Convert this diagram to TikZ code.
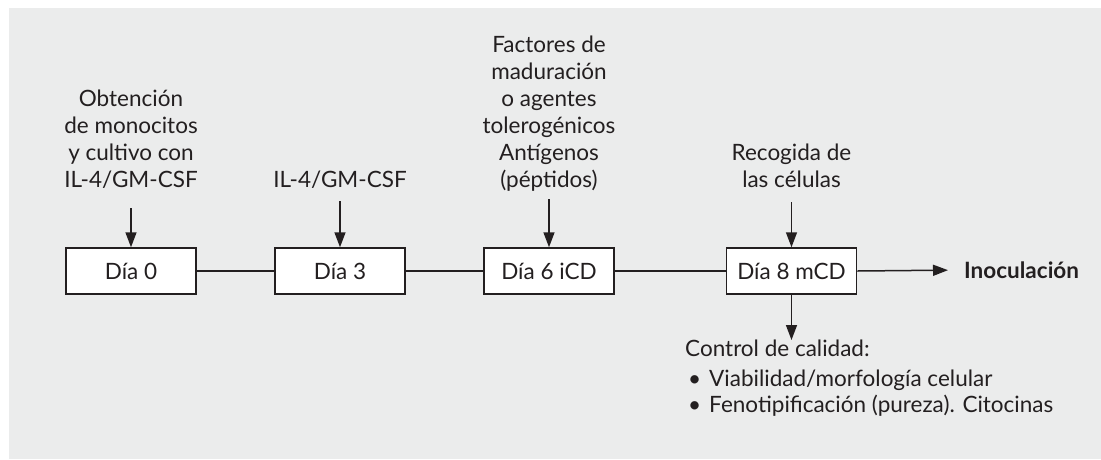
\documentclass[tikz,border=0pt]{standalone}
\usepackage{fontspec}
\setmainfont{Lato}
\usetikzlibrary{arrows.meta}
\definecolor{bg}{HTML}{EBECEC}
\definecolor{ink}{HTML}{231F20}
\begin{document}
\begin{tikzpicture}[x=1pt,y=-1pt,
  every node/.style={text=ink, font=\fontsize{22.5}{27}\selectfont},
  daybox/.style={draw=ink, line width=1.5pt, fill=white, minimum width=130pt, minimum height=46pt, inner sep=0pt},
  lbl/.style={align=center, anchor=south, inner sep=0pt, text depth=5pt},
  link/.style={draw=ink, line width=1.5pt},
  arr/.style={link, -{Triangle[length=15pt,width=11pt]}}]
\useasboundingbox (0,0) rectangle (1101,459);
\fill[bg] (9,8) rectangle (1101,459);
\node[daybox] (d0) at (131,271) {Día 0};
\node[daybox] (d3) at (340,271) {Día 3};
\node[daybox] (d6) at (549,271) {Día 6 iCD};
\node[daybox] (d8) at (791.5,271) {Día 8 mCD};
\node[anchor=west, inner sep=0pt, font=\fontsize{22.5}{27}\selectfont\bfseries] (ino) at (964,270) {Inoculación};
\node[lbl] (l0) at (131,193) {Obtención\\de monocitos\\y cultivo con\\IL-4/GM-CSF};
\node[lbl] (l3) at (340,193) {IL-4/GM-CSF};
\node[lbl] (l6) at (549,193) {Factores de\\maduración\\o agentes\\tolerogénicos\\Antígenos\\(péptidos)};
\node[lbl] (l8) at (791.5,193) {Recogida de\\las células};
\coordinate (qtop) at (791.5,340);
\node[anchor=base west, inner sep=0pt] (qc) at (685,356) {Control de calidad:};
\node[anchor=base west, inner sep=0pt] (b1) at (688,386) {\textbullet\hspace{8pt}Viabilidad/morfología celular};
\node[anchor=base west, inner sep=0pt] (b2) at (688,412) {\textbullet\hspace{8pt}Fenotipificación (pureza). Citocinas};
\draw[link] (d0) -- (d3);
\draw[link] (d3) -- (d6);
\draw[link] (d6) -- (d8);
\draw[arr, shorten >=16pt] (d8.east) -- (ino.west);
\draw[arr, shorten <=15pt] (l0.south) -- (d0.north);
\draw[arr, shorten <=8pt] (l3.south) -- (d3.north);
\draw[arr, shorten <=6pt] (l6.south) -- (d6.north);
\draw[arr, shorten <=9pt] (l8.south) -- (d8.north);
\draw[arr] (d8.south) -- (qtop);
\end{tikzpicture}
\end{document}
